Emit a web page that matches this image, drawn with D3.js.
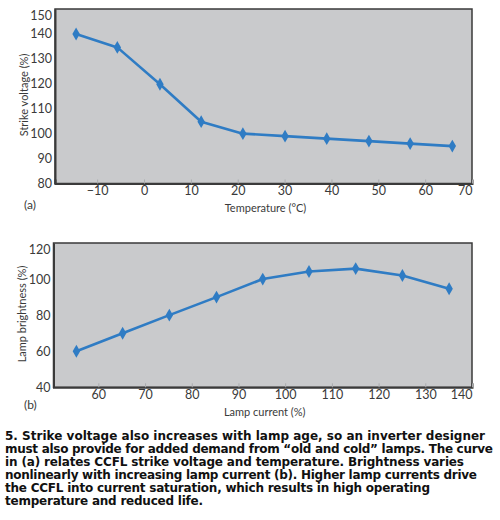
<!DOCTYPE html>
<html><head><meta charset="utf-8">
<script src="https://cdn.jsdelivr.net/npm/d3@7"></script>
<style>
html,body{margin:0;padding:0;background:#fff;}
svg{display:block;}
</style></head>
<body>
<svg id="c" width="500" height="520"></svg>
<script>
// ---- data ----
const tempC = [-14.5, -5.7, 3.4, 12.2, 21.1, 30.1, 39.0, 48.0, 56.8, 65.8];
const strikeV = [140, 134.6, 119.8, 104.8, 100, 99, 98, 97, 96, 95];
const tempTicks = [-10, 0, 10, 20, 30, 40, 50, 60, 70];
const strikeTicks = [80, 90, 100, 110, 120, 130, 140, 150];

const lampCurrent = [55.3, 65.2, 75.2, 85.3, 95.2, 105.1, 115.1, 125.1, 135.1];
const brightness = [60, 70, 80, 90, 100, 104.2, 105.8, 102, 94.6];
const currentTicks = [60, 70, 80, 90, 100, 110, 120, 130, 140];
const brightTicks = [40, 60, 80, 100, 120];

const captionLines = [
  "5. Strike voltage also increases with lamp age, so an inverter designer",
  "must also provide for added demand from \u201cold and cold\u201d lamps. The curve",
  "in (a) relates CCFL strike voltage and temperature. Brightness varies",
  "nonlinearly with increasing lamp current (b). Higher lamp currents drive",
  "the CCFL into current saturation, which results in high operating",
  "temperature and reduced life."
];
const captionWidths = [480, 488, 459, 472, 425, 198];

const svg = d3.select("#c");
const LINE = "#2f7cc4";
const FONT = "Lato, 'DejaVu Sans', sans-serif";

function panel(cfg) {
  const x = d3.scaleLinear().domain(cfg.xDomain).range([cfg.left, cfg.right]);
  const y = d3.scaleLinear().domain(cfg.yDomain).range([cfg.bottom, cfg.top]);
  const g = svg.append("g");
  g.append("rect").attr("x", cfg.left).attr("y", cfg.top)
    .attr("width", cfg.right - cfg.left).attr("height", cfg.bottom - cfg.top)
    .attr("fill", "#c9cacc").attr("stroke", "#3a3a3a").attr("stroke-width", 1.5);

  // x axis
  const xa = g.append("g").attr("transform", `translate(0,${cfg.bottom})`)
    .call(d3.axisBottom(x).tickValues(cfg.xTicks).tickSize(-4).tickPadding(3)
      .tickFormat(d => d < 0 ? "\u2212" + Math.abs(d) : d));
  xa.select(".domain").attr("stroke", "#3a3a3a").attr("stroke-width", 2);
  xa.selectAll(".tick line").attr("stroke", "#a9abae");
  xa.selectAll(".tick text").attr("font-family", FONT).attr("font-size", 12.5).attr("fill", "#3a3a3a");
  xa.selectAll(".tick").filter(d => d === cfg.xTicks[cfg.xTicks.length - 1])
    .select("text").attr("text-anchor", "end");

  // y axis
  const ya = g.append("g").attr("transform", `translate(${cfg.left},0)`)
    .call(d3.axisLeft(y).tickValues(cfg.yTicks).tickSize(0).tickPadding(3));
  ya.select(".domain").attr("stroke", "#3a3a3a").attr("stroke-width", 2);
  ya.selectAll(".tick text").attr("font-family", FONT).attr("font-size", 12.5).attr("fill", "#3a3a3a");
  ya.selectAll(".tick").filter(d => d === cfg.yTicks[cfg.yTicks.length - 1])
    .select("text").attr("dy", "0.75em").attr("y", 1);

  // line + markers
  const pts = cfg.xs.map((v, i) => [v, cfg.ys[i]]);
  g.append("path").datum(pts)
    .attr("d", d3.line().x(d => x(d[0])).y(d => y(d[1])))
    .attr("fill", "none").attr("stroke", LINE).attr("stroke-width", 2.6)
    .attr("stroke-linejoin", "round");
  g.selectAll(".m").data(pts).join("path")
    .attr("transform", d => `translate(${x(d[0])},${y(d[1])})`)
    .attr("d", d3.symbol(d3.symbolDiamond, 48))
    .attr("fill", LINE);

  // titles
  g.append("text").attr("transform", `translate(${cfg.yTitleX},${cfg.yTitleY}) rotate(-90)`)
    .attr("text-anchor", "middle").attr("dominant-baseline", "middle")
    .attr("font-family", FONT).attr("font-size", 11).attr("fill", "#3a3a3a").text(cfg.yTitle);
  g.append("text").attr("x", (cfg.left + cfg.right) / 2 + 2).attr("y", cfg.xTitleY)
    .attr("text-anchor", "middle").attr("font-family", FONT).attr("font-size", 11)
    .attr("fill", "#3a3a3a").text(cfg.xTitle);
  g.append("text").attr("x", 24).attr("y", cfg.tagY)
    .attr("font-family", FONT).attr("font-size", 12).attr("fill", "#3a3a3a").text(cfg.tag);
}

panel({
  left: 55, right: 472, top: 9, bottom: 183.5,
  xDomain: [-19, 70], yDomain: [80, 150],
  xTicks: tempTicks, yTicks: strikeTicks,
  xs: tempC, ys: strikeV,
  yTitle: "Strike voltage (%)", xTitle: "Temperature (\u00b0C)", tag: "(a)",
  yTitleX: 25, yTitleY: 95, xTitleY: 212, tagY: 209
});
panel({
  left: 53.5, right: 472, top: 243, bottom: 387.3,
  xDomain: [50.4, 140], yDomain: [40, 120],
  xTicks: currentTicks, yTicks: brightTicks,
  xs: lampCurrent, ys: brightness,
  yTitle: "Lamp brightness (%)", xTitle: "Lamp current (%)", tag: "(b)",
  yTitleX: 23, yTitleY: 314, xTitleY: 415.5, tagY: 409
});

// caption
const cap = svg.append("g");
const texts = cap.selectAll("text").data(captionLines).join("text")
  .attr("x", 5).attr("y", (d, i) => 439.5 + i * 13.15)
  .attr("font-family", "'DejaVu Sans', Verdana, sans-serif")
  .attr("font-weight", "bold").attr("font-size", 12).attr("fill", "#111")
  .text(d => d);
const n = texts.nodes();
const fs = 12 * 480 / n[0].getComputedTextLength();
texts.attr("font-size", fs)
  .attr("textLength", (d, i) => captionWidths[i])
  .attr("lengthAdjust", "spacing");
</script>
</body></html>
